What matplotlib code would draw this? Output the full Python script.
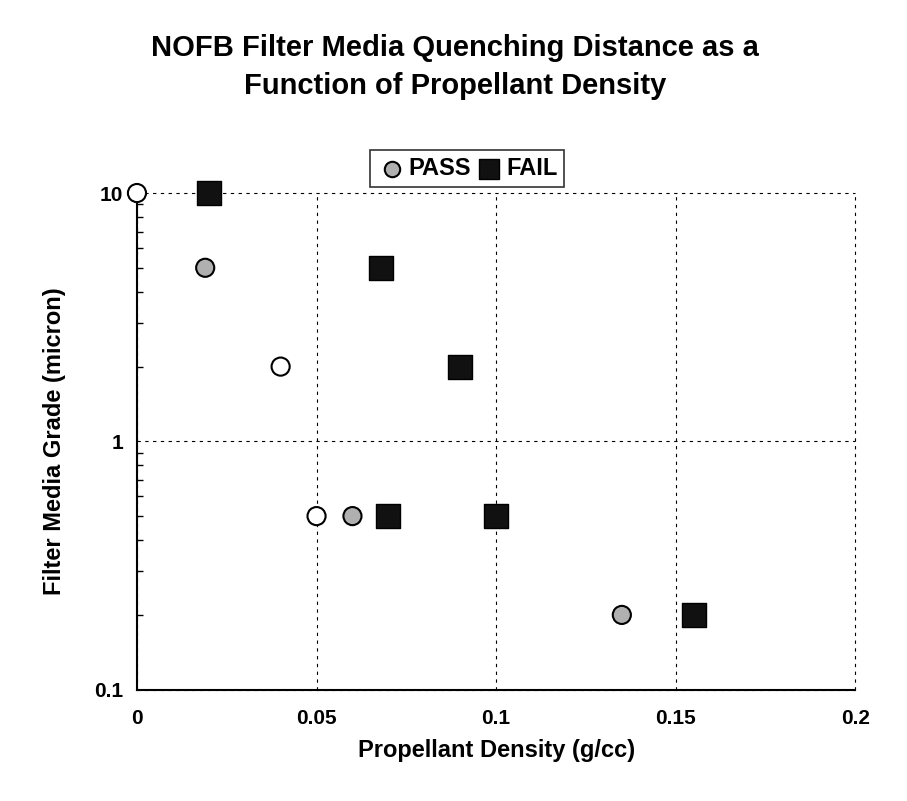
import matplotlib
matplotlib.use("Agg")
import matplotlib.pyplot as plt
from matplotlib.ticker import FixedLocator, NullFormatter, LogLocator

plt.rcParams['font.family'] = ['Liberation Sans', 'DejaVu Sans']

# data
pass_density = [0.0, 0.019, 0.04, 0.05, 0.06, 0.135]
pass_grade = [10, 5, 2, 0.5, 0.5, 0.2]
fail_density = [0.02, 0.068, 0.09, 0.07, 0.1, 0.155]
fail_grade = [10, 5, 2, 0.5, 0.5, 0.2]
x_ticks = [0, 0.05, 0.1, 0.15, 0.2]
x_labels = ['0', '0.05', '0.1', '0.15', '0.2']
y_ticks = [0.1, 1, 10]
y_labels = ['0.1', '1', '10']

# some pass markers look hollow in the scan
pass_faces = ['white', '#b0b0b0', 'white', 'white', '#b0b0b0', '#b0b0b0']

fig = plt.figure(figsize=(9.07, 8.01), dpi=100)
ax = fig.add_axes([0.151, 0.139, 0.792, 0.62])

ax.scatter(pass_density, pass_grade, s=170, c=pass_faces, edgecolors='black',
           linewidths=1.5, marker='o', zorder=3, clip_on=False, label='PASS')
ax.scatter(fail_density, fail_grade, s=300, c='#111111', edgecolors='black',
           marker='s', zorder=3, clip_on=False, label='FAIL')

ax.set_yscale('log')
ax.set_xlim(0, 0.2)
ax.set_ylim(0.1, 10)
ax.xaxis.set_major_locator(FixedLocator(x_ticks))
ax.set_xticklabels(x_labels, fontsize=15, fontweight='bold')
ax.yaxis.set_major_locator(FixedLocator(y_ticks))
ax.set_yticklabels(y_labels, fontsize=15, fontweight='bold')
ax.yaxis.set_minor_locator(LogLocator(base=10, subs=range(2, 10)))
ax.yaxis.set_minor_formatter(NullFormatter())
ax.tick_params(axis='x', length=0, pad=14)
ax.tick_params(axis='y', which='major', length=0, pad=10)
ax.tick_params(axis='y', which='minor', length=4, width=1, direction='in')

ax.grid(True, which='major', color='black', linestyle=(0, (3, 4)), linewidth=0.8)
for gl in ax.get_xgridlines() + ax.get_ygridlines():
    gl.set_clip_on(False)
for side in ['top', 'right']:
    ax.spines[side].set_visible(False)
ax.spines['left'].set_linewidth(1.5)
ax.spines['bottom'].set_linewidth(1.5)

ax.set_xlabel('Propellant Density (g/cc)', fontsize=17, fontweight='bold', labelpad=8)
ax.set_ylabel('Filter Media Grade (micron)', fontsize=17, fontweight='bold', labelpad=20)

fig.text(0.502, 0.958, 'NOFB Filter Media Quenching Distance as a\nFunction of Propellant Density',
         ha='center', va='top', fontsize=21, fontweight='bold', linespacing=1.45)

leg = ax.legend(loc='lower center', bbox_to_anchor=(0.46, 1.012), ncol=2, frameon=True,
                fancybox=False, edgecolor='black', handletextpad=0.1, handlelength=1.2,
                columnspacing=0.2, borderpad=0.3, borderaxespad=0, markerscale=0.85,
                prop={'size': 17, 'weight': 'bold'})
leg.legend_handles[0].set_facecolor('#b0b0b0')
leg.get_frame().set_linewidth(1.2)

plt.savefig('out.png', dpi=100)
